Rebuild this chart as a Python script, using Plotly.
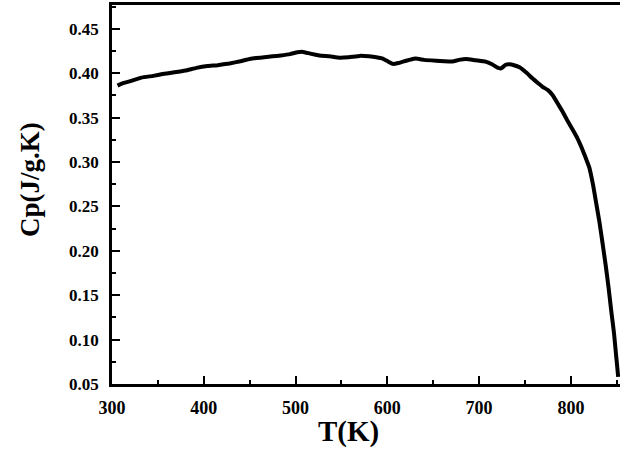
import plotly.graph_objects as go

temperature_K = [306, 310, 320, 332, 345, 355, 368, 380, 392, 404, 415, 428, 440, 450,
                 457, 466, 475, 484, 494, 502, 508, 516, 526, 537, 548, 558, 570, 580,
                 588, 595, 601, 606, 612, 617, 624, 631, 640, 653, 662, 671, 678, 686,
                 696, 707, 714, 720, 724, 729, 733, 738, 744, 751, 758, 764, 769, 775,
                 780, 785, 791, 796, 801, 807, 812, 816, 820, 824, 827, 831, 834, 838,
                 841, 844, 847, 849, 850.5, 851.5]
cp_J_gK = [0.386, 0.388, 0.391, 0.395, 0.397, 0.399, 0.401, 0.403, 0.406, 0.408, 0.409,
           0.411, 0.4135, 0.416, 0.417, 0.418, 0.419, 0.420, 0.4215, 0.4235, 0.424,
           0.422, 0.420, 0.419, 0.4175, 0.418, 0.4195, 0.419, 0.418, 0.4165, 0.413,
           0.4105, 0.4115, 0.413, 0.415, 0.4165, 0.415, 0.414, 0.4135, 0.4133, 0.415,
           0.416, 0.4145, 0.413, 0.410, 0.4062, 0.4055, 0.4095, 0.410, 0.409, 0.4066,
           0.401, 0.3943, 0.389, 0.3847, 0.381, 0.3754, 0.367, 0.3566, 0.347, 0.338,
           0.327, 0.3154, 0.305, 0.294, 0.275, 0.257, 0.233, 0.212, 0.183, 0.159,
           0.132, 0.107, 0.085, 0.069, 0.058]

x_ticks = [300, 400, 500, 600, 700, 800]
y_ticks = [0.05, 0.10, 0.15, 0.20, 0.25, 0.30, 0.35, 0.40, 0.45]
x_title = "T(K)"
y_title = "Cp(J/g.K)"

FONT = "Liberation Serif, Times New Roman, serif"

fig = go.Figure()
fig.add_trace(go.Scatter(x=temperature_K, y=cp_J_gK, mode="lines",
                         line=dict(color="black", width=4, shape="spline", smoothing=0.3),
                         showlegend=False, hoverinfo="skip"))

fig.update_layout(
    width=620, height=454,
    margin=dict(l=112, r=0, t=5, b=70, pad=0),
    paper_bgcolor="white", plot_bgcolor="white",
    font=dict(family=FONT, color="black"),
)

fig.update_xaxes(
    range=[300, 853.5], tickvals=x_ticks, ticktext=[str(v) for v in x_ticks],
    showgrid=False, zeroline=False,
    showline=True, linecolor="black", linewidth=2.5, mirror=True,
    ticks="inside", ticklen=8, tickwidth=2, tickcolor="black",
    minor=dict(dtick=50, tick0=300, ticks="inside", ticklen=4, tickwidth=2, tickcolor="black"),
    tickfont=dict(family=FONT, size=18, color="black", weight="bold"),
    ticklabelstandoff=6,
)
fig.update_yaxes(
    range=[0.05, 0.4768], tickvals=y_ticks, ticktext=[f"{v:.2f}" for v in y_ticks],
    showgrid=False, zeroline=False,
    showline=True, linecolor="black", linewidth=2.5, mirror=False,
    ticks="inside", ticklen=8, tickwidth=2, tickcolor="black",
    minor=dict(dtick=0.025, tick0=0.05, ticks="inside", ticklen=4, tickwidth=2, tickcolor="black"),
    tickfont=dict(family=FONT, size=17, color="black", weight="bold"),
    ticklabelstandoff=7,
)

fig.add_annotation(text=x_title, xref="paper", yref="paper", x=(348 - 112) / 508, y=(384 - 431) / 379,
                   xanchor="center", yanchor="middle", showarrow=False,
                   font=dict(family=FONT, size=29, color="black", weight="bold"))
fig.add_annotation(text=y_title, xref="paper", yref="paper", x=(30 - 112) / 508, y=(384 - 180) / 379,
                   xanchor="center", yanchor="middle", showarrow=False, textangle=-90,
                   font=dict(family=FONT, size=27, color="black", weight="bold"))

fig.write_html("out.html", config={"displayModeBar": False},
               post_script="document.body.style.margin='0';document.body.style.overflow='hidden';")
